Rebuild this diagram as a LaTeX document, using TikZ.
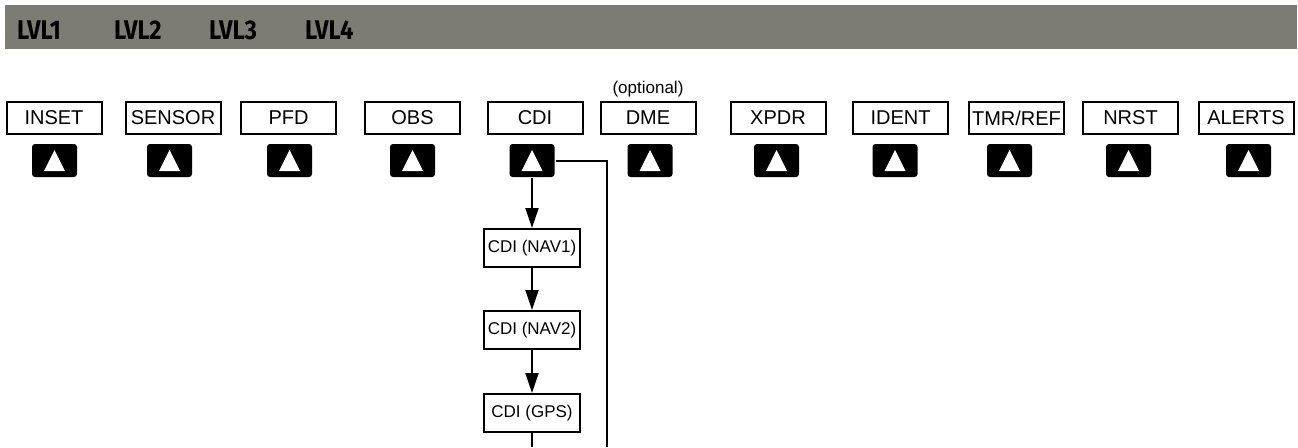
\documentclass[tikz,border=0pt]{standalone}
\usepackage{fontspec}
\setmainfont{Liberation Sans}
\newfontfamily\lvlfont[FakeStretch=0.88]{Fira Sans}
\usetikzlibrary{positioning,calc,arrows.meta}
\definecolor{bargray}{RGB}{124,124,117}

\begin{document}
\begin{tikzpicture}[x=1pt, y=-1pt, line width=2pt,
    key/.style={draw, minimum width=95pt, minimum height=32pt, inner sep=1pt,
      font=\fontsize{20}{22}\selectfont},
    sub/.style={draw, minimum width=96pt, minimum height=38pt, inner sep=1pt,
      font=\fontsize{17}{19}\selectfont},
    softkey/.style={fill=black, rounded corners=3pt, minimum width=45pt,
      minimum height=33pt, inner sep=0pt, path picture={%
        \fill[white, sharp corners]
        ([xshift=-10.5pt,yshift=-10.5pt]path picture bounding box.center) --
        ([xshift=10.5pt,yshift=-10.5pt]path picture bounding box.center) --
        ([yshift=10.5pt]path picture bounding box.center) -- cycle;}},
    lvl/.style={anchor=base west, inner sep=0pt,
      font=\lvlfont\bfseries\fontsize{27}{29}\selectfont},
    >={Triangle[length=20pt,width=13pt]}]
  \useasboundingbox (0,0) rectangle (1298,447);%
  % level bar
  \fill[bargray] (5,5) rectangle (1297,49);%
  \node[lvl] (lvl1) at (16,39) {LVL1};%
  \node[lvl] (lvl2) at (113,39) {LVL2};%
  \node[lvl] (lvl3) at (208,39) {LVL3};%
  \node[lvl] (lvl4) at (304,39) {LVL4};%
  % softkey labels
  \node[key] (inset) at (54,118) {INSET};%
  \node[key] (sensor) at (173,118) {SENSOR};%
  \node[key] (pfd) at (288.5,118) {PFD};%
  \node[key] (obs) at (412.5,118) {OBS};%
  \node[key] (cdi) at (535,118) {CDI};%
  \node[key] (dme) at (648,118) {DME};%
  \node[key] (xpdr) at (778,118) {XPDR};%
  \node[key] (ident) at (900.5,118) {IDENT};%
  \node[key] (tmrref) at (1016.5,118) {TMR/REF};%
  \node[key] (nrst) at (1130.5,118) {NRST};%
  \node[key] (alerts) at (1246,118) {ALERTS};%
  \node[inner sep=0pt, above=3pt of dme, font=\fontsize{17}{19}\selectfont]
    (optional) {(optional)};%
  % softkeys
  \node[softkey] (k1) at (54.5,160.5) {};%
  \node[softkey] (k2) at (169.5,160.5) {};%
  \node[softkey] (k3) at (289.5,160.5) {};%
  \node[softkey] (k4) at (412.5,160.5) {};%
  \node[softkey] (k5) at (532,160.5) {};%
  \node[softkey] (k6) at (650,160.5) {};%
  \node[softkey] (k7) at (776.5,160.5) {};%
  \node[softkey] (k8) at (895,160.5) {};%
  \node[softkey] (k9) at (1009.5,160.5) {};%
  \node[softkey] (k10) at (1128.5,160.5) {};%
  \node[softkey] (k11) at (1248.5,160.5) {};%
  % CDI cycle
  \node[sub] (nav1) at (532,248) {CDI (NAV1)};%
  \node[sub, on grid, below=82pt of nav1] (nav2) {CDI (NAV2)};%
  \node[sub, on grid, below=83pt of nav2] (gps) {CDI (GPS)};%
  \coordinate (gpsend) at (532,447);%
  \coordinate (cdiend) at (607,447);%
  \draw[->] (k5) -- (nav1);%
  \draw[->] (nav1) -- (nav2);%
  \draw[->] (nav2) -- (gps);%
  \draw (gps) -- (gpsend);%
  \draw (k5) -| (cdiend);%
\end{tikzpicture}
\end{document}
